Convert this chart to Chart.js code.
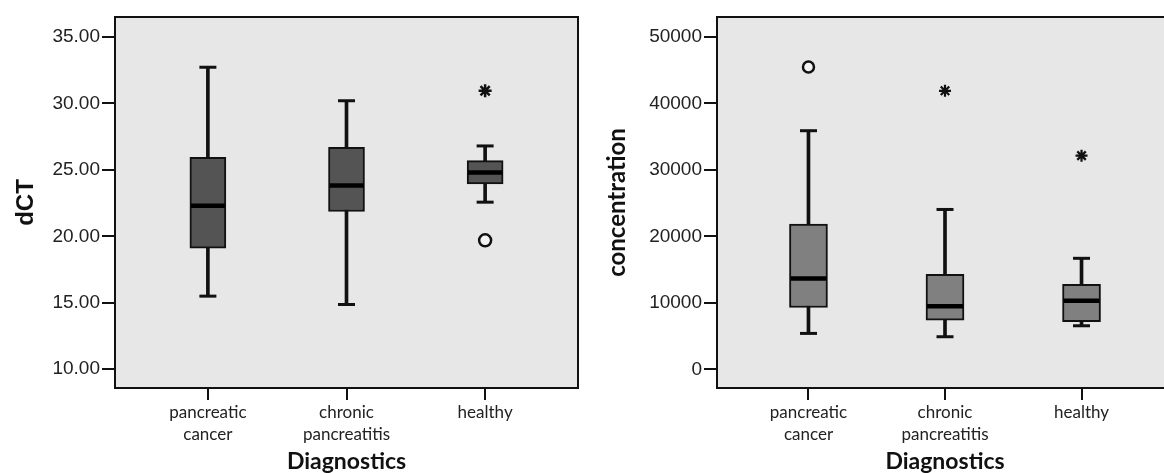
<!DOCTYPE html>
<html>
<head>
<meta charset="utf-8">
<script src="https://cdn.jsdelivr.net/npm/chart.js@4.4.1/dist/chart.umd.min.js"></script>
<style>
  html, body { margin: 0; padding: 0; background: #ffffff; overflow: hidden; width: 1164px; height: 473px; }
  .panel { position: absolute; top: 0; height: 473px; }
  #left { left: 0; width: 580px; }
  #right { left: 585px; width: 590px; }
</style>
</head>
<body>
<div class="panel" id="left"><canvas id="c1" width="580" height="473"></canvas></div>
<div class="panel" id="right"><canvas id="c2" width="590" height="473"></canvas></div>
<script>
// ---- Data ----
const categories = [['pancreatic', 'cancer'], ['chronic', 'pancreatitis'], ['healthy']];
const categoryIndex = [0, 1, 2];

// Left panel: dCT
const dctWhiskerLow  = [15.50, 14.87, 22.57];
const dctQ1          = [19.10, 21.87, 23.95];
const dctMedian      = [22.30, 23.82, 24.80];
const dctQ3          = [25.95, 26.70, 25.70];
const dctWhiskerHigh = [32.72, 30.20, 26.80];
const dctMildOutliers    = [null, null, 19.70];
const dctExtremeOutliers = [null, null, 30.95];
const dctTicks = [10, 15, 20, 25, 30, 35];

// Right panel: concentration
const concWhiskerLow  = [5400, 4900, 6550];
const concQ1          = [9300, 7400, 7150];
const concMedian      = [13650, 9500, 10300];
const concQ3          = [21850, 14300, 12800];
const concWhiskerHigh = [35900, 24050, 16700];
const concMildOutliers    = [45500, null, null];
const concExtremeOutliers = [null, 41900, 32150];
const concTicks = [0, 10000, 20000, 30000, 40000, 50000];

// ---- Helpers ----
const framePlugin = {
  id: 'frame',
  beforeDraw(chart) {
    const {ctx, chartArea: a} = chart;
    ctx.save();
    ctx.fillStyle = '#e7e7e7';
    ctx.fillRect(a.left, a.top, a.right - a.left, a.bottom - a.top);
    ctx.restore();
  },
  afterDraw(chart) {
    const {ctx, chartArea: a} = chart;
    ctx.save();
    ctx.strokeStyle = '#111';
    ctx.lineWidth = 2;
    ctx.strokeRect(a.left, a.top, a.right - a.left, a.bottom - a.top);
    ctx.restore();
  }
};

function pairs(lo, hi) { return categoryIndex.map(i => ({x: i, y: [lo[i], hi[i]]})); }
function pts(vals) {
  return categoryIndex.filter(i => vals[i] !== null && vals[i] !== undefined).map(i => ({x: i, y: vals[i]}));
}
function noPad(s) { s.paddingLeft = 0; s.paddingRight = 0; s.paddingTop = 0; s.paddingBottom = 0; }

function buildChart(canvasId, o) {
  const datasets = [
    { type: 'bar', data: pairs(o.low, o.high), backgroundColor: '#111', borderWidth: 0,
      barThickness: 3, grouped: false, order: 6 },
    { type: 'bar', data: pairs(o.q1, o.q3), backgroundColor: o.boxColor, borderColor: '#111',
      borderWidth: 2, borderSkipped: false, barThickness: o.boxWidth, grouped: false, order: 5 },
    { type: 'scatter', data: pts(o.median), pointStyle: 'line', pointRadius: o.boxWidth / 2 - 1,
      borderColor: '#000', borderWidth: 4.5, order: 4 },
    { type: 'scatter', data: pts(o.low).concat(pts(o.high)), pointStyle: 'line', pointRadius: o.capRadius,
      borderColor: '#111', borderWidth: 3, order: 3 },
    { type: 'scatter', data: pts(o.mild), pointStyle: 'circle', pointRadius: o.circleRadius,
      borderColor: '#111', backgroundColor: '#f4f4f4', borderWidth: 2.5, order: 2 },
    { type: 'scatter', data: pts(o.extreme), pointStyle: 'star', pointRadius: o.starRadius,
      borderColor: '#111', borderWidth: o.starWidth, order: 1 }
  ];
  return new Chart(document.getElementById(canvasId), {
    type: 'bar',
    data: { datasets },
    plugins: [framePlugin],
    options: {
      responsive: false, animation: false, events: [],
      layout: { autoPadding: false, padding: { top: 17, right: 2, bottom: 0, left: 0 } },
      plugins: { legend: { display: false }, tooltip: { enabled: false } },
      scales: {
        x: {
          type: 'linear', min: -0.67, max: 2.67, offset: false,
          grid: { display: true, offset: false, drawOnChartArea: false, drawTicks: true,
                  tickLength: 12, color: '#111', lineWidth: 2 },
          border: { display: false },
          afterBuildTicks: s => { s.ticks = categoryIndex.map(v => ({value: v})); },
          afterFit: s => { s.height = 85; noPad(s); },
          ticks: { autoSkip: false, maxRotation: 0, minRotation: 0, padding: 1, color: '#222',
                   font: { family: 'Lato', size: 17, lineHeight: 1.3 }, callback: v => categories[v] },
          title: { display: true, text: 'Diagnostics', color: '#111',
                   font: { family: 'Lato', size: 23, weight: 'bold', lineHeight: 1 }, padding: { top: 0, bottom: 0 } }
        },
        y: {
          type: 'linear', min: o.yMin, max: o.yMax,
          grid: { display: true, drawOnChartArea: false, drawTicks: true, tickLength: 13, color: '#111', lineWidth: 2 },
          border: { display: false },
          afterBuildTicks: s => { s.ticks = o.ticks.map(v => ({value: v})); },
          afterFit: s => { s.width = o.axisWidth; noPad(s); },
          ticks: { padding: 2, color: '#222', font: { family: 'Liberation Sans', size: 19 }, callback: o.fmt },
          title: { display: true, text: o.title, color: '#111', font: o.titleFont, padding: { top: o.titleOffset, bottom: 0 } }
        }
      }
    }
  });
}

buildChart('c1', {
  low: dctWhiskerLow, q1: dctQ1, median: dctMedian, q3: dctQ3, high: dctWhiskerHigh,
  mild: dctMildOutliers, extreme: dctExtremeOutliers, ticks: dctTicks,
  yMin: 8.59, yMax: 36.5, axisWidth: 115,
  boxColor: '#545454', boxWidth: 36, capRadius: 8.5, circleRadius: 6, starRadius: 6.5, starWidth: 2.5,
  fmt: v => Number(v).toFixed(2),
  title: 'dCT', titleFont: { family: 'Liberation Sans', size: 24, weight: 'bold', lineHeight: 1 }, titleOffset: 14
});
buildChart('c2', {
  low: concWhiskerLow, q1: concQ1, median: concMedian, q3: concQ3, high: concWhiskerHigh,
  mild: concMildOutliers, extreme: concExtremeOutliers, ticks: concTicks,
  yMin: -2814, yMax: 53010, axisWidth: 132,
  boxColor: '#808080', boxWidth: 38, capRadius: 8.5, circleRadius: 5.5, starRadius: 6, starWidth: 2.2,
  fmt: v => String(v),
  title: 'concentration', titleFont: { family: 'Lato', size: 24, weight: 'bold', lineHeight: 1 }, titleOffset: 20
});
</script>
</body>
</html>
